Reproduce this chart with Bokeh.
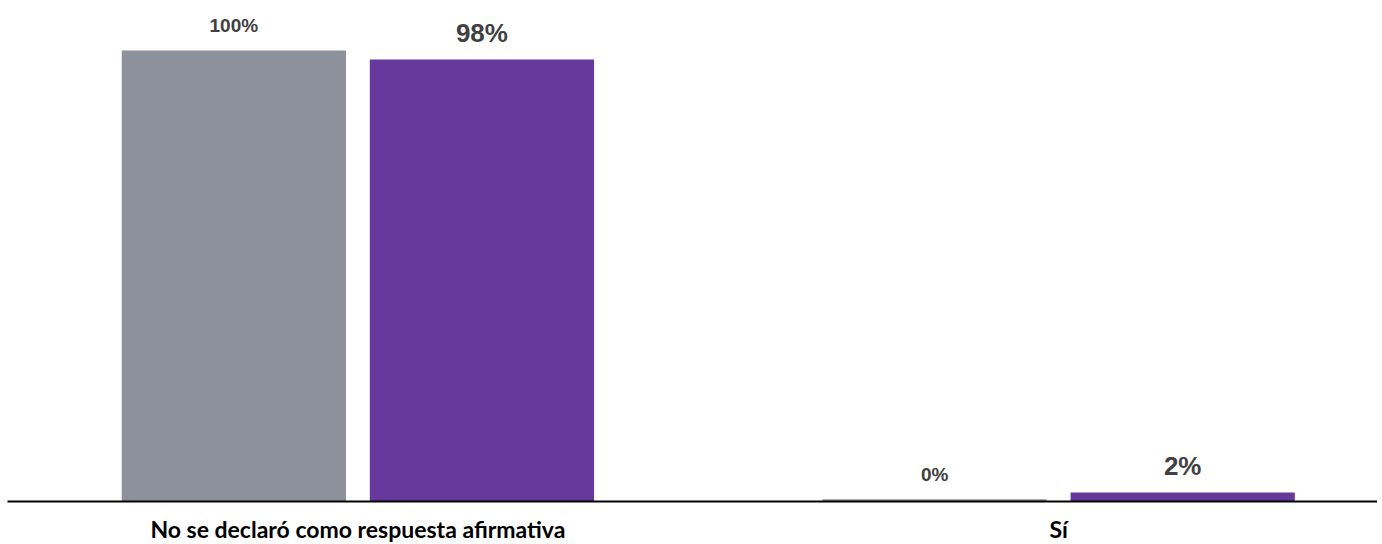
from bokeh.plotting import figure
from bokeh.models import ColumnDataSource, Range1d, FixedTicker
from bokeh.core.properties import value
from bokeh.embed import file_html
from bokeh.resources import INLINE

categories = ["No se declaró como respuesta afirmativa", "Sí"]
serie_gris = [100, 0.5]
serie_morada = [98, 2]

cat_x = list(range(len(categories)))

p = figure(output_backend="svg", toolbar_location=None,
           frame_width=1370, frame_height=493,
           min_border_left=7, min_border_right=0, min_border_top=8,
           min_border_bottom=35,
           x_range=Range1d(-0.5, 1.455), y_range=Range1d(0, 109.3))

offset = 0.177
bw = 0.32
series = [
    (serie_gris, -offset, "#8D919C", "19px", -25),
    (serie_morada, offset, "#68399D", "26px", -26),
]
for vals, off, color, fsize, yoff in series:
    src = ColumnDataSource(dict(
        x=[c + off for c in cat_x],
        top=vals,
        label=[f"{round(v)}%" for v in vals],
    ))
    p.vbar(x="x", top="top", bottom=0, width=bw, source=src,
           fill_color=color, line_color=None)
    p.text(x="x", y="top", text="label", source=src,
           text_align="center", text_baseline="alphabetic", y_offset=yoff,
           text_font=value("Liberation Sans"), text_font_style="bold",
           text_font_size=fsize, text_color="#404040")

p.yaxis.visible = False
p.grid.visible = False
p.outline_line_color = None
p.background_fill_color = "white"
p.border_fill_color = "white"

xa = p.xaxis[0]
xa.ticker = FixedTicker(ticks=cat_x)
xa.major_label_overrides = {i: c for i, c in enumerate(categories)}
xa.major_tick_line_color = None
xa.minor_tick_line_color = None
xa.major_tick_out = 0
xa.major_tick_in = 0
xa.axis_line_color = "black"
xa.axis_line_width = 2
xa.major_label_standoff = 13
xa.major_label_text_font = "Lato"
xa.major_label_text_font_style = "bold"
xa.major_label_text_font_size = "23px"
xa.major_label_text_color = "black"

open("out.html", "w").write(file_html(p, INLINE))
